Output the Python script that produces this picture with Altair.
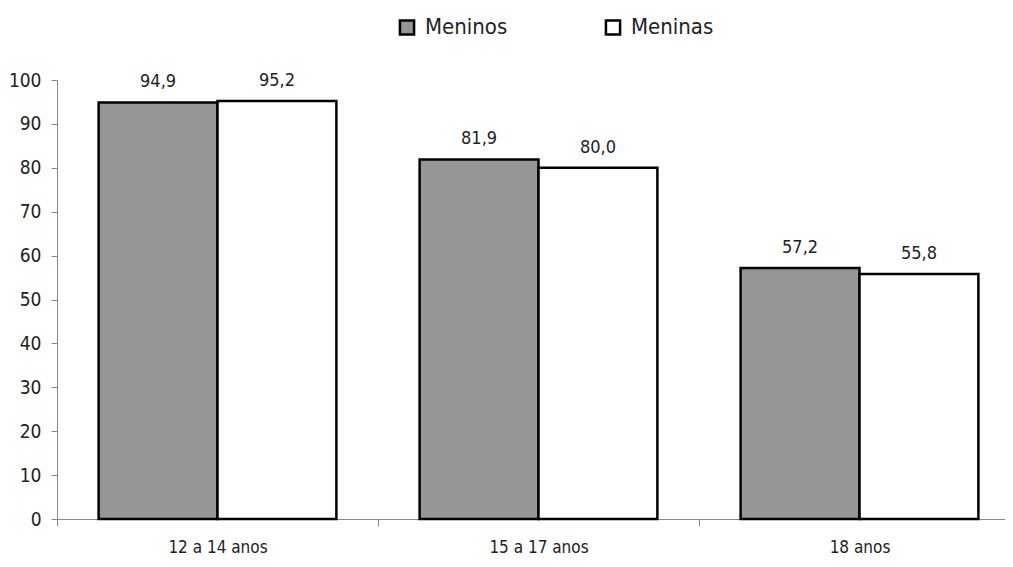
import altair as alt
import pandas as pd

categorias = ["12 a 14 anos", "15 a 17 anos", "18 anos"]
meninos = [94.9, 81.9, 57.2]
meninas = [95.2, 80.0, 55.8]
series = ["Meninos", "Meninas"]
cores = ["#969696", "#ffffff"]

rows = []
for i, c in enumerate(categorias):
    rows.append({"faixa": c, "sexo": "Meninos", "valor": meninos[i]})
    rows.append({"faixa": c, "sexo": "Meninas", "valor": meninas[i]})
df = pd.DataFrame(rows)

FONT = "DejaVu Sans Condensed, DejaVu Sans"

base = alt.Chart(df).encode(
    x=alt.X("faixa:N", sort=categorias,
            scale=alt.Scale(paddingInner=0, paddingOuter=0, range=[0, 963]),
            axis=alt.Axis(title=None, labelAngle=0, tickBand="extent",
                          domainColor="#888888", tickColor="#888888",
                          tickSize=7, labelPadding=13, labelFontSize=17,
                          labelFont=FONT, labelColor="#222222")),
    xOffset=alt.XOffset("sexo:N", sort=series,
                        scale=alt.Scale(paddingInner=0, paddingOuter=0.35)),
    y=alt.Y("valor:Q", scale=alt.Scale(domain=[0, 100]),
            axis=alt.Axis(title=None, values=list(range(0, 101, 10)), grid=False,
                          domainColor="#888888", tickColor="#888888",
                          tickSize=6, labelPadding=10, labelFontSize=19,
                          labelFont=FONT, labelColor="#222222")),
)

bars = base.mark_bar(stroke="black", strokeWidth=2.5).encode(
    fill=alt.Fill("sexo:N", sort=series,
                  scale=alt.Scale(domain=series, range=cores),
                  legend=alt.Legend(title=None, orient="none", direction="horizontal",
                                    legendX=339, legendY=-64, padding=0,
                                    symbolType="square", symbolSize=200,
                                    symbolStrokeColor="black", symbolStrokeWidth=2.5,
                                    labelFontSize=22, labelFont=FONT, labelColor="#222222",
                                    labelOffset=7, columnPadding=92)),
)

labels = base.transform_calculate(
    rotulo="replace(format(datum.valor, '.1f'), '.', ',')"
).mark_text(baseline="alphabetic", dy=-15, fontSize=18, font=FONT, color="#222222").encode(
    text="rotulo:N"
)

chart = (bars + labels).properties(
    width=948, height=439,
    background="white",
    autosize=alt.AutoSizeParams(type="none"),
    padding={"left": 49, "top": 72, "right": 0, "bottom": 40},
).configure_view(strokeWidth=0)

chart.save("out.html", embed_options={"renderer": "svg", "actions": False})
